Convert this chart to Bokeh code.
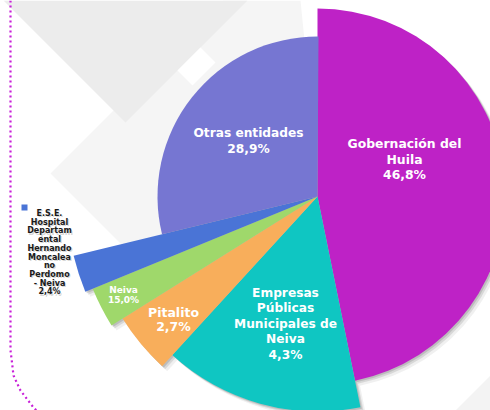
import math
from bokeh.plotting import figure
from bokeh.models import Range1d, ColumnDataSource
from bokeh.core.properties import value
from bokeh.embed import file_html
from bokeh.resources import INLINE

# ---- data ----
categories = ["Gobernación del Huila", "Empresas Públicas Municipales de Neiva",
              "Pitalito", "Neiva", "E.S.E. Hospital Departamental Hernando Moncaleano Perdomo - Neiva",
              "Otras entidades"]
slice_values = [46.8, 15.0, 4.3, 2.7, 2.4, 28.9]          # angular share of each slice
label_percents = ["46,8%", "4,3%", "2,7%", "15,0%", "2,4%", "28,9%"]   # percentages as printed
label_lines = [
    ["Gobernación del", "Huila"],
    ["Empresas", "Públicas", "Municipales de", "Neiva"],
    ["Pitalito"],
    ["Neiva"],
    ["E.S.E.", "Hospital", "Departam", "ental", "Hernando", "Moncalea", "no", "Perdomo", "- Neiva"],
    ["Otras entidades"],
]

# ---- style / layout ----
colors = ["#BE22C6", "#0FC6C2", "#F8AE5B", "#9FD86B", "#4A74D6", "#7676D2"]
radii = [188, 215, 230, 243, 251, 160]
W, H = 490, 410
OFF = 0
def ix(px): return px - OFF
def iy(py): return H + OFF - py

CX, CY = ix(317), iy(196)
label_pos = [(404, 143, 15.5), (285, 292, 15.5), (173, 312, 14), (123, 289, 10), (49, 213, 8.7), (248, 132, 16)]
label_size = ["12.4px", "12.2px", "12.5px", "9px", "8px", "12.2px"]
label_color = ["white", "white", "white", "white", "#1a1a1a", "white"]

p = figure(width=W, height=H, output_backend="svg", toolbar_location=None,
           x_range=Range1d(0, W), y_range=Range1d(0, H), min_border=0)
p.axis.visible = False
p.grid.visible = False
p.outline_line_color = None
p.background_fill_color = "white"
p.border_fill_color = "white"

# background decoration
bg_light = [(50, 173), (160, 283), (320, 200), (300, 0), (223, 0)]
bg_dark = [(3, 0), (125, 122), (247, 0)]
bg_white = [(177, 70), (200, 47), (215, 62), (192, 85)]
bg_corner = [(455, 410), (490, 375), (490, 410)]
for poly, col in [(bg_light, "#F5F5F5"), (bg_dark, "#ECECEC"), (bg_white, "#FFFFFF"), (bg_corner, "#F3F3F3")]:
    p.patch([ix(a) for a, b in poly], [iy(b) for a, b in poly], fill_color=col, line_color=None)

dots = [(10, 0), (10, 350), (11.5, 362), (13, 375), (20, 390), (33, 407), (36, 410)]
p.line([ix(a) for a, b in dots], [iy(b) for a, b in dots], line_color="#C81ED8",
       line_width=2.2, line_dash="2 3")

# slices
starts, ends = [], []
cum = 0.0
for v in slice_values:
    a0 = 90 - cum * 3.6
    cum += v
    a1 = 90 - cum * 3.6
    starts.append(math.radians(a1))
    ends.append(math.radians(a0))

src = ColumnDataSource(dict(start=starts, end=ends, r=radii, color=colors, cat=categories,
                            x=[CX] * len(radii), y=[CY] * len(radii)))
for dx, alpha in [(5, 0.06), (3, 0.10), (1.5, 0.12)]:
    p.wedge(x=CX + dx, y=CY - dx, radius="r", start_angle="start", end_angle="end",
            source=src, fill_color="black", fill_alpha=alpha, line_color=None)
p.wedge(x="x", y="y", radius="r", start_angle="start", end_angle="end", source=src,
        fill_color="color", line_color=None)

# legend marker for the E.S.E. slice
p.scatter([ix(24)], [iy(207)], marker="square", size=6, fill_color=colors[4], line_color=None)

# labels
for i, lines in enumerate(label_lines):
    allx = lines + [label_percents[i]]
    px, py0, dy = label_pos[i]
    xs = [ix(px)] * len(allx)
    ys = [iy(py0 + k * dy) for k in range(len(allx))]
    if i == 4:
        p.text(x=[x + 1.2 for x in xs], y=[y - 1.2 for y in ys], text=allx, text_color="#888888",
               text_alpha=0.35, text_font=value("DejaVu Sans"), text_font_style="bold",
               text_font_size=label_size[i], text_align="center", text_baseline="middle")
    p.text(x=xs, y=ys, text=allx, text_color=label_color[i], text_font=value("DejaVu Sans"),
           text_font_style="bold", text_font_size=label_size[i], text_align="center",
           text_baseline="middle")

open("out.html", "w").write(file_html(p, INLINE))
